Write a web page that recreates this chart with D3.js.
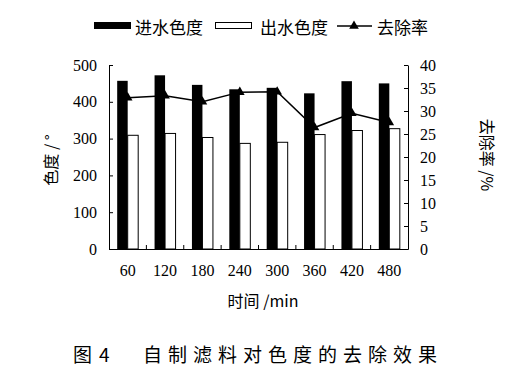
<!DOCTYPE html>
<html><head><meta charset="utf-8">
<script src="https://cdn.jsdelivr.net/npm/d3@7"></script>
<style>body{margin:0;background:#fff}</style>
</head><body>
<svg id="c" width="505" height="375"></svg>
<script>
const categories = ["60","120","180","240","300","360","420","480"];
const inflow = [457,472,446,434,438,423,456,450];
const outflow = [309,314,303,287,290,311,322,327];
const removal = [32.9,33.3,32.0,34.1,34.2,26.4,29.5,27.5];
const leftTicks = [0,100,200,300,400,500];
const rightTicks = [0,5,10,15,20,25,30,35,40];

const svg = d3.select("#c");
const serif = "'Liberation Serif','Times New Roman',serif";
const cjk = "'Noto Sans CJK SC',sans-serif";
const L=109,R=408,T=65,B=249;
const x = d3.scaleBand().domain(categories).range([L,R]);
const yL = d3.scaleLinear().domain([0,500]).range([B,T]);
const yR = d3.scaleLinear().domain([0,40]).range([B,T]);
const bw = 10.5;

// bars
svg.append("g").selectAll("rect").data(categories).join("rect")
  .attr("x",d=>x(d)+x.bandwidth()/2-bw).attr("y",(d,i)=>yL(inflow[i]))
  .attr("width",bw).attr("height",(d,i)=>B-yL(inflow[i])).attr("fill","#000");
svg.append("g").selectAll("rect").data(categories).join("rect")
  .attr("x",d=>x(d)+x.bandwidth()/2).attr("y",(d,i)=>yL(outflow[i]))
  .attr("width",bw).attr("height",(d,i)=>B-yL(outflow[i]))
  .attr("fill","#fff").attr("stroke","#000").attr("stroke-width",1);

// axes
const gl = svg.append("g").attr("transform",`translate(${L},0)`)
  .call(d3.axisLeft(yL).tickValues(leftTicks).tickSizeInner(-4).tickSizeOuter(0).tickPadding(12));
const gr = svg.append("g").attr("transform",`translate(${R},0)`)
  .call(d3.axisRight(yR).tickValues(rightTicks).tickSizeInner(-4).tickSizeOuter(0).tickPadding(12));
const gx = svg.append("g").attr("transform",`translate(0,${B})`)
  .call(d3.axisBottom(x).tickSize(0).tickPadding(16));
[gl,gr,gx].forEach(g=>{
  g.attr("font-family",null).attr("font-size",null);
  g.selectAll("path").attr("stroke","#000");
  g.selectAll("line").attr("stroke","#000");
  g.selectAll("text").style("font-family",serif).style("font-size","16px").attr("fill","#000");
});
// inner x ticks at band boundaries
svg.append("g").selectAll("line").data(categories.slice(1)).join("line")
  .attr("x1",d=>x(d)).attr("x2",d=>x(d)).attr("y1",B).attr("y2",B-4).attr("stroke","#000");

// line
const pts = categories.map((d,i)=>[x(d)+x.bandwidth()/2, yR(removal[i])]);
svg.append("path").attr("d",d3.line()(pts)).attr("fill","none").attr("stroke","#000").attr("stroke-width",1.5);
const tri = d3.symbol().type(d3.symbolTriangle).size(40);
svg.append("g").selectAll("path").data(pts).join("path")
  .attr("d",tri).attr("transform",d=>`translate(${d[0]},${d[1]})`).attr("fill","#000");

// axis titles
svg.append("text").attr("transform","translate(50,160) rotate(-90)").attr("text-anchor","middle")
  .attr("dominant-baseline","central").style("font-family",cjk).attr("font-size",16).text("色度 / °");
svg.append("text").attr("transform","translate(488,155) rotate(90)").attr("text-anchor","middle")
  .attr("dominant-baseline","central").style("font-family",cjk).attr("font-size",16).text("去除率 /%");
svg.append("text").attr("x",263).attr("y",300).attr("text-anchor","middle")
  .attr("dominant-baseline","central").style("font-family",cjk).attr("font-size",16).text("时间 /min");

// legend
const lg = svg.append("g");
lg.append("rect").attr("x",94).attr("y",22).attr("width",37).attr("height",7).attr("fill","#000");
lg.append("text").attr("x",135).attr("y",26).attr("dominant-baseline","central").style("font-family",cjk).attr("font-size",17).text("进水色度");
lg.append("rect").attr("x",215.5).attr("y",22.5).attr("width",36).attr("height",6).attr("fill","#fff").attr("stroke","#000");
lg.append("text").attr("x",260).attr("y",26).attr("dominant-baseline","central").style("font-family",cjk).attr("font-size",17).text("出水色度");
lg.append("line").attr("x1",337).attr("x2",372).attr("y1",26).attr("y2",26).attr("stroke","#000").attr("stroke-width",1.5);
lg.append("path").attr("d",tri).attr("transform","translate(354,26)").attr("fill","#000");
lg.append("text").attr("x",377).attr("y",26).attr("dominant-baseline","central").style("font-family",cjk).attr("font-size",17).text("去除率");

// caption
svg.append("text").attr("x",73).attr("y",353).attr("dominant-baseline","central").style("font-family",cjk)
  .attr("font-size",19).attr("letter-spacing",7).text("图4");
svg.append("text").attr("x",143).attr("y",353).attr("dominant-baseline","central").style("font-family",cjk)
  .attr("font-size",19).attr("letter-spacing",6).text("自制滤料对色度的去除效果");
</script>
</body></html>
